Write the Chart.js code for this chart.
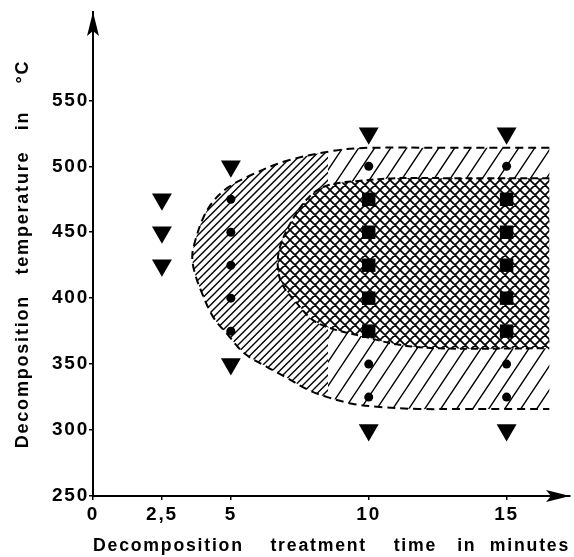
<!DOCTYPE html>
<html>
<head>
<meta charset="utf-8">
<script src="https://cdn.jsdelivr.net/npm/chart.js@4/dist/chart.umd.min.js"></script>
<style>
  html, body { margin: 0; padding: 0; background: #fff; }
  canvas { display: block; }
</style>
</head>
<body>
<canvas id="c" width="574" height="557"></canvas>
<script>
// ---- Data ----
const xTicks = [0, 2.5, 5, 10, 15];
const xTickLabels = ['0', '2,5', '5', '10', '15'];
const yTicks = [250, 300, 350, 400, 450, 500, 550];
const yTickLabels = ['250', '300', '350', '400', '450', '500', '550'];

// Outer (single-hatched) region boundary
const outerX = [16.55, 13, 10, 8.8, 7.0, 5.7, 4.9, 4.38, 4.0, 3.7, 3.6, 3.68, 3.95, 4.35, 4.9, 5.5, 6.3, 7.0, 7.75, 8.5, 9.4, 10.4, 11.8, 13.5, 16.55];
const outerY = [514, 514, 514, 512, 504, 493, 484, 474, 461, 443, 432, 420, 404, 386, 372, 358, 348, 340, 331, 325, 320, 317.5, 316, 316, 316];

// Inner (cross-hatched) region boundary
const innerX = [16.55, 13, 11, 9.7, 8.5, 7.85, 7.25, 6.8, 6.7, 6.85, 7.4, 8.0, 8.8, 9.9, 11, 12.5, 16.55];
const innerY = [491, 491, 491, 489, 485.5, 477, 460, 440, 425, 411, 396, 383, 376, 370.5, 365, 362, 362];

// Triangles (down)
const triX = [2.5, 2.5, 2.5, 5, 5, 10, 10, 15, 15];
const triY = [475, 450, 425, 500, 350, 525, 300, 525, 300];
// Dots
const dotX = [5, 5, 5, 5, 5, 10, 10, 10, 15, 15, 15];
const dotY = [475, 450, 425, 400, 375, 500, 350, 325, 500, 350, 325];
// Squares
const sqX = [10, 10, 10, 10, 10, 15, 15, 15, 15, 15];
const sqY = [475, 450, 425, 400, 375, 475, 450, 425, 400, 375];

const xTitle = 'Decomposition    treatment    time   in  minutes';
const yTitle = 'Decomposition   temperature   in    °C';

// ---- helpers ----
const pts = (xs, ys) => xs.map((x, i) => ({ x: x, y: ys[i] }));

// single hatch: denser on the left crescent, sparser in the bands (as drawn in the original)
function singleHatchPattern() {
  const W = 574, H = 557, split = 328;
  const c = document.createElement('canvas');
  c.width = W; c.height = H;
  const g = c.getContext('2d');
  g.strokeStyle = '#000';
  g.lineWidth = 1.4;
  function lines(x0, x1, slope, step) {
    g.save();
    g.beginPath(); g.rect(x0, 0, x1 - x0, H); g.clip();
    g.beginPath();
    for (let b = -H * 2; b < W + H * 2; b += step) {
      g.moveTo(b, H);
      g.lineTo(b + H / slope, 0);
    }
    g.stroke();
    g.restore();
  }
  lines(0, split, 1.0, 7.5);
  lines(split, W, 1.5, 16);
  return g.createPattern(c, 'no-repeat');
}

function crossHatchPattern(size, width) {
  const c = document.createElement('canvas');
  c.width = size; c.height = size;
  const g = c.getContext('2d');
  g.fillStyle = '#fff'; g.fillRect(0, 0, size, size);
  g.strokeStyle = '#000';
  g.lineWidth = width;
  g.beginPath();
  g.moveTo(-size, size * 2); g.lineTo(size * 2, -size);
  g.moveTo(-size, size); g.lineTo(size, -size);
  g.moveTo(0, size * 2); g.lineTo(size * 2, 0);
  g.moveTo(-size, -size); g.lineTo(size * 2, size * 2);
  g.moveTo(-size, 0); g.lineTo(size, size * 2);
  g.moveTo(0, -size); g.lineTo(size * 2, size);
  g.stroke();
  return g.createPattern(c, 'repeat');
}

const singleHatch = singleHatchPattern();
const crossHatch = crossHatchPattern(10, 1.7);

const spacingPlugin = {
  id: 'letterSpacing',
  beforeDraw(chart) { chart.ctx.letterSpacing = '1.8px'; }
};

const arrowPlugin = {
  id: 'axisArrows',
  afterDraw(chart) {
    const { ctx, chartArea: a } = chart;
    ctx.save();
    ctx.fillStyle = '#000';
    ctx.beginPath();
    ctx.moveTo(a.left, a.top);
    ctx.lineTo(a.left + 6, a.top + 24);
    ctx.lineTo(a.left, a.top + 19);
    ctx.lineTo(a.left - 6, a.top + 24);
    ctx.closePath();
    ctx.fill();
    ctx.beginPath();
    ctx.moveTo(a.right, a.bottom);
    ctx.lineTo(a.right - 24, a.bottom - 6);
    ctx.lineTo(a.right - 19, a.bottom);
    ctx.lineTo(a.right - 24, a.bottom + 6);
    ctx.closePath();
    ctx.fill();
    ctx.restore();
  }
};

const tickFont = { family: 'Liberation Sans', size: 19, weight: 'bold' };
const titleFont = { family: 'Liberation Sans', size: 18, weight: 'bold' };

new Chart(document.getElementById('c'), {
  type: 'scatter',
  data: {
    datasets: [
      {
        label: 'outer', data: pts(outerX, outerY), showLine: true, tension: 0.35,
        fill: 'shape', backgroundColor: singleHatch, borderColor: '#000', borderWidth: 2,
        borderDash: [8, 5], pointRadius: 0, order: 4
      },
      {
        label: 'inner', data: pts(innerX, innerY), showLine: true, tension: 0.35,
        fill: 'shape', backgroundColor: crossHatch, borderColor: '#000', borderWidth: 2,
        borderDash: [7, 4], pointRadius: 0, order: 3
      },
      {
        label: 'triangles', data: pts(triX, triY), pointStyle: 'triangle', rotation: 180,
        pointRadius: 11.5, backgroundColor: '#000', borderColor: '#000', borderWidth: 0, order: 0
      },
      {
        label: 'dots', data: pts(dotX, dotY), pointStyle: 'circle',
        pointRadius: 4.5, backgroundColor: '#000', borderColor: '#000', borderWidth: 0, order: 0
      },
      {
        label: 'squares', data: pts(sqX, sqY), pointStyle: 'rect',
        pointRadius: 9.5, backgroundColor: '#000', borderColor: '#000', borderWidth: 0, order: 0
      }
    ]
  },
  options: {
    responsive: false,
    animation: false,
    devicePixelRatio: 1,
    layout: { autoPadding: false, padding: { top: 12, right: 4, left: 0, bottom: 0 } },
    plugins: { legend: { display: false }, tooltip: { enabled: false } },
    scales: {
      x: {
        type: 'linear', min: 0, max: 17.3,
        afterBuildTicks: s => { s.ticks = xTicks.map(v => ({ value: v })); },
        afterFit: s => { s.height = 61; s.paddingLeft = 0; s.paddingRight = 0; },
        ticks: {
          callback: v => { const i = xTicks.indexOf(v); return i >= 0 ? xTickLabels[i] : ''; },
          font: tickFont, color: '#000', padding: 3, maxRotation: 0, autoSkip: false
        },
        grid: { drawOnChartArea: false, tickLength: 4, color: '#000', lineWidth: 1.5 },
        border: { color: '#000', width: 2 },
        title: { display: true, text: xTitle, font: titleFont, color: '#000', padding: { top: 0, bottom: 0 } }
      },
      y: {
        type: 'linear', min: 250, max: 617,
        afterBuildTicks: s => { s.ticks = yTicks.map(v => ({ value: v })); },
        afterFit: s => { s.width = 93; s.paddingTop = 0; s.paddingBottom = 0; },
        ticks: {
          callback: v => { const i = yTicks.indexOf(v); return i >= 0 ? yTickLabels[i] : ''; },
          font: tickFont, color: '#000', padding: 0, autoSkip: false
        },
        grid: { drawOnChartArea: false, tickLength: 4, color: '#000', lineWidth: 1.5 },
        border: { color: '#000', width: 2 },
        title: { display: true, text: yTitle, font: titleFont, color: '#000', padding: { top: 12, bottom: 0 } }
      }
    }
  },
  plugins: [spacingPlugin, arrowPlugin]
});
</script>
</body>
</html>
